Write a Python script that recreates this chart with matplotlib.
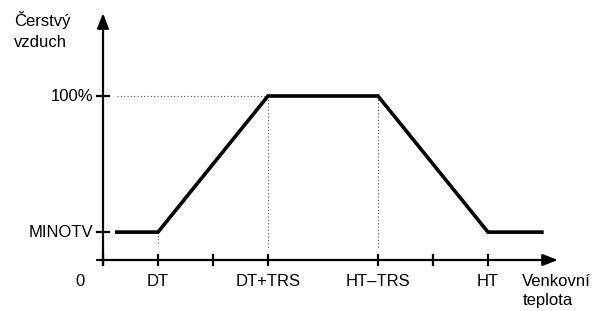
import matplotlib.pyplot as plt

plt.rcParams['font.family'] = ['Liberation Sans', 'DejaVu Sans']

# data (x in tick units, y: 0 = axis, 1 = 100 %)
x_ticks = [0, 1, 2, 3, 5, 6, 7]
x_tick_labels = ['0', 'DT', '', 'DT+TRS', 'HT\u2013TRS', '', 'HT']
curve_x = [0.25, 1, 3, 5, 7, 7.98]
minotv = 0.17
curve_y = [minotv, minotv, 1.0, 1.0, minotv, minotv]
y_ticks = [minotv, 1.0]
y_tick_labels = ['MINOTV', '100%']

fig = plt.figure(figsize=(6.09, 3.11), dpi=100)
ax = fig.add_axes([0, 0, 1, 1])
ax.set_xlim(-103 / 55, (609 - 103) / 55)
ax.set_ylim(-(311 - 260) / 164, 260 / 164)
ax.axis('off')

px = 1 / 55   # one pixel in x units
py = 1 / 164  # one pixel in y units
fs = 12

# axes with arrows
ax.annotate('', xy=(8.27, 0), xytext=(-6 * px, 0),
            arrowprops=dict(arrowstyle='-|>,head_length=0.9,head_width=0.35',
                            lw=1.6, color='black', shrinkA=0, shrinkB=0))
ax.annotate('', xy=(0, 1.505), xytext=(0, -5 * py),
            arrowprops=dict(arrowstyle='-|>,head_length=0.9,head_width=0.35',
                            lw=1.6, color='black', shrinkA=0, shrinkB=0))

# x ticks
for xt in x_ticks:
    ax.plot([xt, xt], [-5 * py, 5 * py], color='black', lw=1.6)
for xt, lab in zip(x_ticks, x_tick_labels):
    if lab:
        tx = xt - 23 * px if lab == '0' else xt
        ax.text(tx, -22 * py, lab, ha='center', va='center', fontsize=fs)

# y ticks
for yt, lab in zip(y_ticks, y_tick_labels):
    ax.plot([-6 * px, 6 * px], [yt, yt], color='black', lw=1.6)
    ax.text(-10 * px, yt, lab, ha='right', va='center', fontsize=fs)

# dotted guides
dot = dict(color='#555555', lw=0.8, linestyle=(0, (1, 2)))
ax.plot([14 * px, 3], [1.0, 1.0], **dot)
ax.plot([3, 3], [1.0, 12 * py], **dot)
ax.plot([5, 5], [1.0, 12 * py], **dot)
ax.plot([1, 1], [minotv, 15 * py], **dot)

# curve
ax.plot(curve_x, curve_y, color='black', lw=2.6, solid_joinstyle='miter')

# axis titles
ax.text(419 * px, -22 * py, 'Venkovn\u00ed', ha='left', va='center', fontsize=fs)
ax.text(420 * px, -40 * py, 'teplota', ha='left', va='center', fontsize=fs)
ax.text(-89 * px, 240 * py, '\u010cerstv\u00fd', ha='left', va='center', fontsize=fs)
ax.text(-89 * px, 218 * py, 'vzduch', ha='left', va='center', fontsize=fs)

fig.savefig('out.png', dpi=100)
